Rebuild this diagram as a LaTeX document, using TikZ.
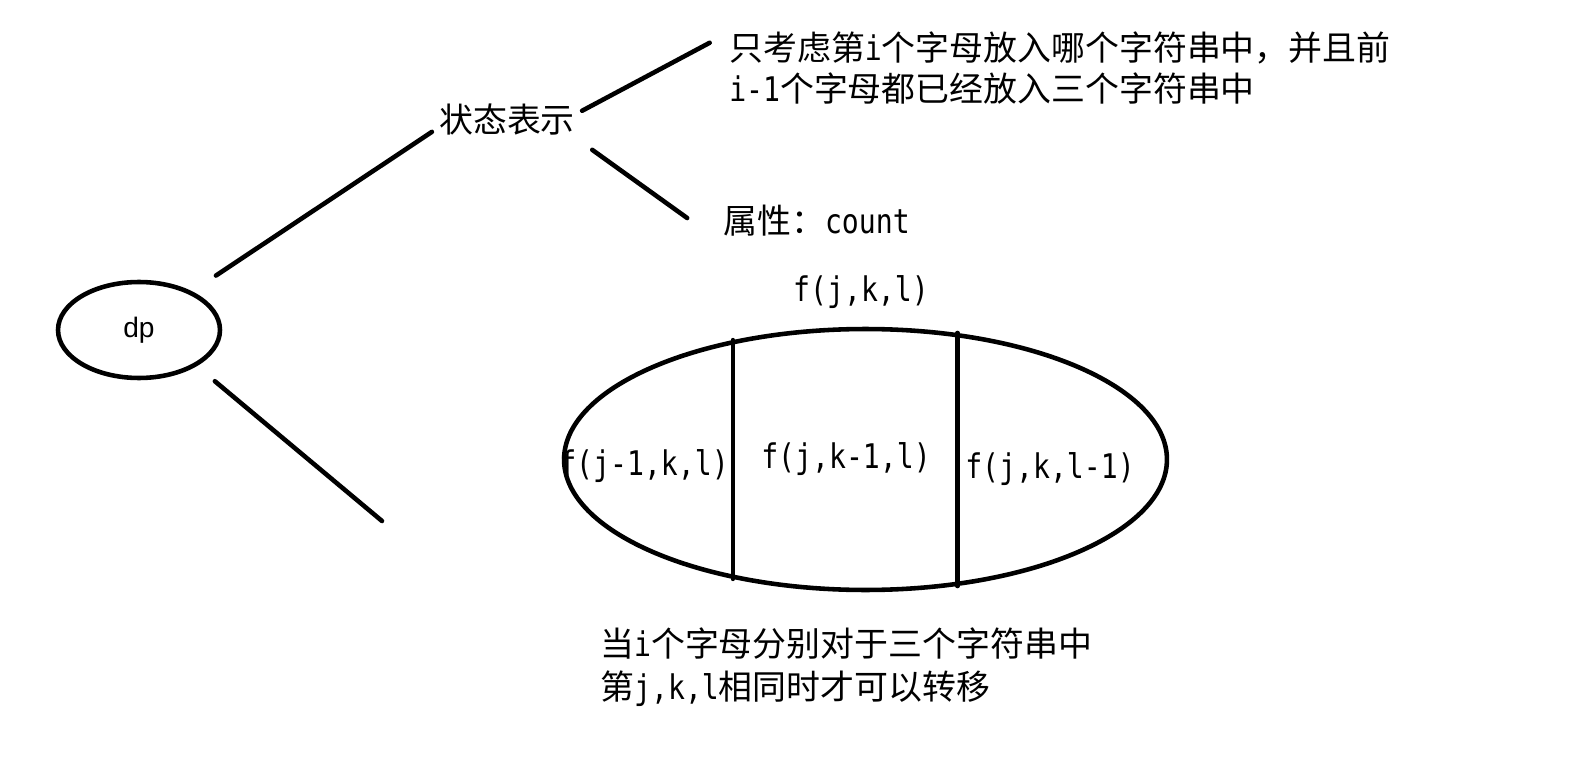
\documentclass[tikz,border=0pt]{standalone}
\usepackage{fontspec}
\setmainfont{Noto Sans CJK SC}
\newfontfamily\hwfont[FakeStretch=0.83]{DejaVu Sans Mono}
\newfontfamily\dpfont{Liberation Sans}
\newcommand\hw[1]{{\hwfont #1}}
\usetikzlibrary{positioning, shapes.geometric}

\begin{document}
\begin{tikzpicture}[x=0.02cm, y=-0.02cm, line width=2.6pt, line cap=round,
  txt/.style={inner sep=0.1cm, text height=16pt, text depth=1.4pt, font=\fontsize{19.3}{24}\selectfont},
  blob/.style={ellipse, draw, inner sep=0}]
\useasboundingbox (0,0) rectangle (1588,763);
\node (dp) [blob, minimum width=3.24cm, minimum height=1.92cm, font=\dpfont\fontsize{16}{18}\selectfont] at (139,330) {dp};
\node (state) [txt] at (507,120) {状态表示};
\node (meaning) [txt, anchor=west] at (722,48) {只考虑第\hw{i}个字母放入哪个字符串中，并且前};
\node (meaning2) [txt, anchor=west] at (722,89) {\hw{i-1}个字母都已经放入三个字符串中};
\node (attr) [txt, anchor=west] at (716,221) {属性：\hw{count}};
\node (fjkl) [txt] at (861,289) {\hw{f(j,k,l)}};
\node (trans) [blob, minimum width=12.06cm, minimum height=5.22cm] at (865.5,459.5) {};
\node (fa) [txt] at (644,463) {\hw{f(j-1,k,l)}};
\node (fb) [txt] at (846,456) {\hw{f(j,k-1,l)}};
\node (fc) [txt] at (1050,466) {\hw{f(j,k,l-1)}};
\node (cond) [txt, anchor=west] at (593,644) {当\hw{i}个字母分别对于三个字符串中};
\node (cond2) [txt, anchor=west] at (593,687) {第\hw{j,k,l}相同时才可以转移};
\coordinate (branch) at (382,521);
\path
     (dp.36) edge [shorten <=0.57cm] (state.189)
     (dp.-32) edge [shorten <=0.47cm] (branch)
     (state.7) edge [shorten >=0.28cm] (meaning.178)
     (state.south east) edge [shorten <=0.25cm, shorten >=0.71cm] (attr.190)
     (trans.138.5) edge (trans.222.5)
     (trans.54) edge (trans.306);
\end{tikzpicture}
\end{document}
